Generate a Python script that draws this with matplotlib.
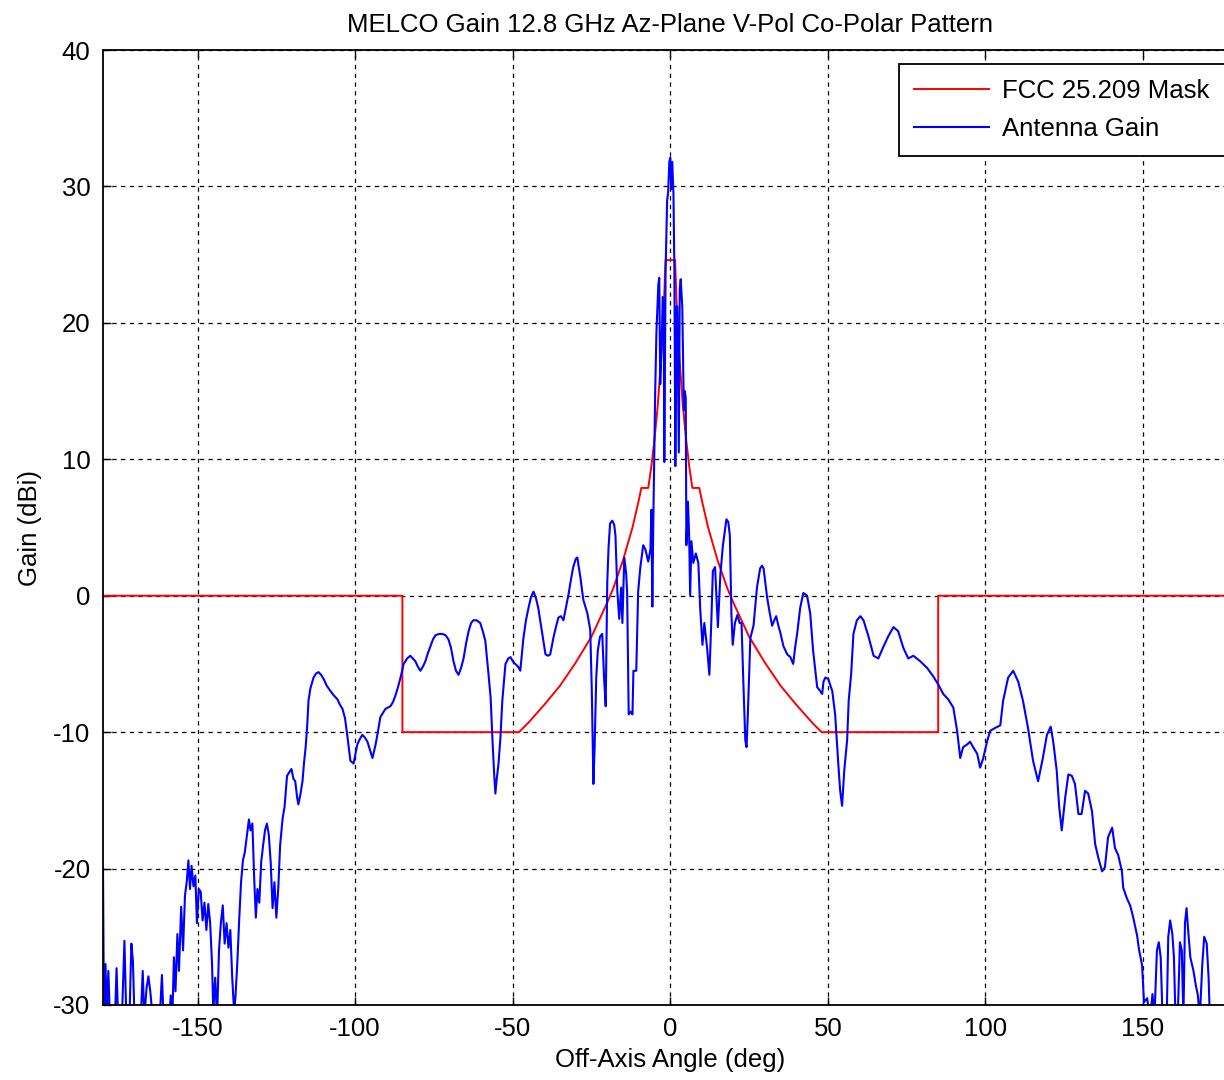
import matplotlib
matplotlib.use("Agg")
import matplotlib.pyplot as plt
import numpy as np

plt.rcParams['font.family'] = ['Liberation Sans', 'DejaVu Sans']
plt.rcParams['axes.unicode_minus'] = False

TITLE = "MELCO Gain 12.8 GHz Az-Plane V-Pol Co-Polar Pattern"
XLABEL = "Off-Axis Angle (deg)"
YLABEL = "Gain (dBi)"
LEGEND_LABELS = ["FCC 25.209 Mask", "Antenna Gain"]
XTICKS = [-150, -100, -50, 0, 50, 100, 150]
YTICKS = [-30, -20, -10, 0, 10, 20, 30, 40]

# FCC 25.209 mask (breakpoints)
mask_angle = [-180, -85, -85, -48, -45, -40, -35, -30, -25, -20, -18, -15, -12, -10, -9.2,
              -7, -6, -5, -4, -3, -2, -1.5, 1.5, 2, 3, 4, 5, 6, 7,
              9.2, 10, 12, 15, 18, 20, 25, 30, 35, 40, 45, 48, 85, 85, 180]
mask_gain = [0, 0, -10, -10, -9.3, -8.0, -6.6, -4.9, -3.0, -0.5, 0.6, 2.6, 5.0, 7.0, 7.9,
             7.9, 9.5, 11.5, 13.9, 17.1, 21.5, 24.6, 24.6, 21.5, 17.1, 13.9, 11.5, 9.5, 7.9,
             7.9, 7.0, 5.0, 2.6, 0.6, -0.5, -3.0, -4.9, -6.6, -8.0, -9.3, -10, -10, 0, 0]

gain_angle = [
    -180, -179.7, -179.2, -178.8, -178.3, -177.8, -177, -176.2, -175.7, -175.2, -174, -173.2, -172.6,
    -171.6, -171, -170.5, -170, -169, -168, -167.4, -166.9, -166.2, -165.6, -165.0, -164.4, -163,
    -162, -161.3, -160.8, -159, -158.5, -158, -157.5, -157, -156.4, -155.9, -155.2, -154.6, -154,
    -153.4, -152.9, -152.4, -151.9, -151.3, -150.7, -150.2, -149.6, -149, -148.4, -147.8, -147.2,
    -146.6, -146, -145.4, -145, -144.4, -143.8, -143.2, -142.6, -142.0, -141.4, -140.8, -140.2,
    -139.6, -139, -138.4, -138, -137.4, -136.8, -136.2, -135.6, -135, -134.3, -133.7, -133.2,
    -132.6, -132, -131.5, -131, -130.4, -129.8, -129.2, -128.6, -128, -127.4, -126.8, -126.2,
    -125.6, -125, -124.4, -123.8, -123, -122.4, -121.6, -120.8, -120.2, -119.6, -119, -118.4,
    -118, -117.4, -116.7, -116.2, -115.7, -115.2, -114.8, -114.2, -113.2, -112.4, -111.6, -110.8,
    -110, -109, -107.8, -106.8, -105.6, -104.8, -104, -103.2, -102.4, -101.5, -100.5, -99.8,
    -99.3, -98.5, -97.7, -96.9, -96.1, -95.3, -94.5, -93.5, -92.8, -92, -91.2, -90.4, -89.6,
    -88.8, -88, -87.2, -86.4, -85.6, -84.6, -83.5, -82.5, -81.7, -80.9, -80.1, -79.3, -78.5,
    -77.7, -76.9, -76.1, -75.3, -74.5, -73.4, -72.3, -71.3, -70.4, -69.6, -68.8, -68, -67.2,
    -66.4, -65.6, -64.8, -64, -63.2, -62.5, -61.5, -60.3, -59.5, -58.7, -57.7, -57, -56.4,
    -55.9, -55.5, -55.1, -54.5, -53.9, -53.3, -52.3, -51.4, -50.7, -50, -49.2, -48.3, -47.6,
    -46.6, -45.8, -45, -44.2, -43.4, -42.6, -41.9, -40.6, -39.6, -38.8, -38.1, -37.1, -36.3,
    -35.5, -34.7, -33.9, -32.3, -31.5, -30.8, -30.0, -29.5, -28.5, -27.6, -26.3, -25.4, -24.9,
    -24.4, -24.0, -23.5, -23.0, -22.3, -21.6, -21.0, -20.5, -20.0, -19.6, -19.1, -18.4, -17.8,
    -17.4, -16.8, -16.2, -15.6, -15.2, -14.6, -14.0, -13.7, -13.2, -12.5, -12.0, -11.7, -10.8,
    -10.2, -9.5, -8.6, -7.9, -7.0, -6.3, -6.0, -5.7, -5.4, -4.8, -4.4, -3.8, -3.5, -3.2, -2.8,
    -2.4, -2.1, -1.9, -1.5, -1.0, -0.7, -0.3, 0.0, 0.3, 0.6, 1.0, 1.3, 1.6, 2.0, 2.2, 2.7, 3.0,
    3.3, 3.8, 4.3, 4.6, 4.9, 5.1, 5.6, 6.0, 6.3, 6.7, 7.3, 8.1, 8.9, 9.5, 10.2, 10.8, 11.7, 12.4,
    13.0, 13.5, 14.2, 15.1, 15.9, 16.7, 17.8, 18.4, 18.9, 19.4, 19.8, 20.5, 21.3, 22.0, 22.6,
    23.2, 23.8, 24.2, 24.6, 25.0, 25.4, 26.4, 27.5, 28.5, 29.1, 29.6, 30.7, 31.5, 32.3, 33.0,
    33.6, 34.3, 34.9, 35.9, 37.1, 38.1, 39.0, 39.6, 40.3, 41.2, 42.2, 43.4, 44.4, 45.3, 46.6,
    47.6, 48.2, 48.6, 49.2, 50.1, 51.4, 52.3, 53.3, 53.9, 54.5, 55.2, 56.1, 56.6, 57.4, 58.1,
    59.2, 60.3, 61.3, 62.9, 64.5, 66.0, 67.5, 69.1, 70.8, 72.3, 73.9, 75.5, 77.1, 79.3, 81.5,
    83.4, 85.0, 86.6, 88.2, 89.8, 91.0, 92.0, 92.9, 94.2, 95.1, 96.1, 97.4, 98.3, 99.3, 100.5,
    101.5, 103.0, 104.7, 105.6, 107.2, 108.8, 110.4, 111.9, 113.5, 115.1, 116.7, 118.2, 119.5,
    120.7, 121.5, 122.6, 123.4, 124.2, 125.3, 126.3, 127.4, 128.4, 129.5, 130.5, 131.6, 132.6,
    133.8, 134.8, 135.8, 137.0, 137.9, 138.9, 140.2, 141.1, 142.1, 143.3, 143.7, 144.9, 145.9,
    146.8, 148.1, 148.7, 149.7, 150.3, 151.3, 152.2, 153, 153.6, 154.4, 155, 155.6, 156.2, 157.5,
    158, 158.6, 159.3, 159.8, 160.3, 161, 161.7, 162.3, 162.8, 163.3, 163.8, 164.3, 165.0, 166.0,
    166.7, 167.4, 168, 168.8, 169.4, 170.2, 170.8, 171.2, 180]
gain_dbi = [
    -20, -31, -27, -31, -27.5, -31, -31, -31, -27.3, -31, -31, -25.3, -31,
    -31, -25.5, -26.8, -31, -31, -31, -27.5, -31, -28.8, -27.9, -29.0, -30.5, -31,
    -31, -27.8, -31, -31, -29.3, -31, -26.5, -29, -24.8, -27.5, -22.8, -26, -22.0,
    -20.9, -19.4, -21.5, -19.8, -21.3, -20.5, -24, -21.5, -21.7, -23.8, -22.5, -24.5,
    -22.6, -24, -27, -30.5, -28, -31, -26, -24, -22.7, -25.5, -24, -25.8,
    -24.5, -28, -30.5, -29.5, -27, -23.8, -21, -19.4, -18.8, -17.5, -16.4, -17.2,
    -16.7, -20.9, -23.6, -21.5, -22.5, -19.5, -18.3, -17.2, -16.7, -17.5, -19.5, -22.9,
    -21.0, -23.6, -21.5, -18.3, -16.3, -15.5, -13.2, -12.9, -12.7, -13.4, -13.6, -14.8,
    -15.3, -14.6, -13.6, -12.2, -11.1, -9.5, -7.7, -6.8, -6.0, -5.7, -5.6, -5.8,
    -6.1, -6.6, -7.0, -7.3, -7.6, -8.0, -8.3, -9.0, -10.4, -12.1, -12.3, -11.5,
    -10.9, -10.5, -10.2, -10.4, -10.7, -11.3, -11.9, -10.9, -10.0, -8.9, -8.6, -8.3, -8.2,
    -8.1, -7.8, -7.3, -6.7, -6.0, -5.0, -4.6, -4.4, -4.6, -4.8, -5.2, -5.5, -5.2,
    -4.8, -4.2, -3.7, -3.2, -2.9, -2.8, -2.8, -2.9, -3.2, -3.8, -4.8, -5.5, -5.8,
    -5.3, -4.6, -3.5, -2.6, -2.0, -1.8, -1.8, -2.0, -2.6, -3.3, -5.7, -7.5, -10.7,
    -13.0, -14.5, -13.5, -12.3, -10.4, -7.7, -5.0, -4.6, -4.5, -4.8, -5.0, -5.2, -5.5,
    -3.1, -1.8, -0.9, -0.1, 0.3, -0.2, -0.9, -2.8, -4.3, -4.4, -4.3, -3.1, -2.3,
    -1.6, -1.5, -1.8, 0.1, 1.2, 2.1, 2.7, 2.8, 1.3, -0.3, -1.3, -2.5, -7.0,
    -13.8, -11.0, -6.0, -4.0, -3.0, -2.8, -6.1, -8.1, 1.0, 3.5, 5.3, 5.5, 5.2,
    4.4, 0.3, -1.7, 0.6, -2.0, 2.8, 1.6, 0.3, -8.7, -8.5, -8.7, -5.5, -5.5,
    0.3, 2.1, 3.7, 3.4, 2.5, 3.4, 6.3, -0.8, 5.3, 14.9, 19.3, 22.8, 23.3, 15.5, 18.1,
    21.9, 21.5, 9.8, 23.8, 29.0, 29.5, 31.8, 32.1, 29.8, 31.8, 29.5, 23.8, 9.5, 21.2, 21.2, 10.5, 22.5,
    23.2, 21.2, 13.6, 15.0, 14.5, 3.7, 6.9, 4.2, 0.0, 4.0, 2.4, 3.1, 2.4, -1.0, -3.6, -2.0, -3.9, -5.8,
    -2.0, 1.8, 2.1, -2.3, 1.6, 3.7, 5.6, 5.4, 4.4, -1.4, -3.6, -2.0, -1.4, -2.0, -2.0,
    -6.5, -10.6, -11.1, -8.7, -6.0, -3.1, -2.2, 0.6, 2.0, 2.2, 2.0, -0.1, -1.2, -2.2, -1.8,
    -1.5, -2.2, -2.7, -3.7, -4.3, -4.5, -5.0, -3.8, -2.7, -0.9, 0.2, 0.0, -1.3, -4.0, -6.7,
    -7.0, -7.2, -6.3, -6.0, -6.1, -7.0, -8.7, -12.3, -14.3, -15.4, -12.8, -10.6, -7.7, -5.7, -2.8,
    -1.8, -1.5, -1.8, -3.0, -4.4, -4.6, -3.8, -3.0, -2.3, -2.6, -3.8, -4.6, -4.4, -4.8, -5.3,
    -5.9, -6.5, -7.2, -7.6, -8.2, -9.9, -11.9, -11.1, -10.9, -10.7, -11.1, -11.6, -12.6, -11.9, -10.7,
    -9.9, -9.7, -9.5, -7.7, -6.0, -5.5, -6.3, -7.7, -9.7, -12.1, -13.6, -11.9, -10.2,
    -9.6, -10.7, -12.8, -15.5, -17.2, -14.8, -13.1, -13.2, -13.8, -16.0, -16.0, -14.3, -14.5,
    -15.8, -18.2, -19.2, -20.2, -19.9, -17.7, -17.0, -18.5, -19.0, -20.2, -21.4, -22.2, -22.7,
    -23.5, -24.9, -25.9, -27.1, -29.8, -29.5, -31, -29.2, -31, -26, -25.4, -26.5, -31, -31,
    -25, -23.8, -24.8, -26.5, -31, -31, -25.4, -26, -31, -24, -22.9, -24.5, -26.5, -27.5,
    -28.5, -29.3, -31, -27, -25.0, -25.5, -28, -31, -31]

FS = 18.5

fig = plt.figure(figsize=(12.24, 10.8), dpi=100)
ax = fig.add_axes([103/1224, 1 - 1005/1080, (1237.6 - 103)/1224, (1005 - 50)/1080])

ax.plot(mask_angle, mask_gain, color=(1, 0, 0), lw=1.4, label=LEGEND_LABELS[0])
ax.plot(gain_angle, gain_dbi, color=(0, 0, 1), lw=1.5, label=LEGEND_LABELS[1])

ax.set_xlim(-180, 180)
ax.set_ylim(-30, 40)
ax.set_xticks(XTICKS)
ax.set_yticks(YTICKS)
ax.grid(True, color='k', linestyle=(0, (3.5, 3.5)), linewidth=0.9)
ax.tick_params(direction='in', length=6, width=1, top=True, right=True,
               labelsize=FS, pad=9)
for s in ax.spines.values():
    s.set_linewidth(1.3)

ax.set_title(TITLE, fontsize=FS, pad=13)
ax.set_xlabel(XLABEL, fontsize=FS, labelpad=5)
ax.set_ylabel(YLABEL, fontsize=FS, labelpad=8)

leg = fig.legend(loc='upper left', bbox_to_anchor=(899/1224, 1 - 64/1080),
                 fontsize=FS, frameon=True, fancybox=False, framealpha=1,
                 edgecolor='k', borderpad=0.6, handlelength=2.9,
                 handletextpad=0.5, labelspacing=0.52, borderaxespad=0)
leg.get_frame().set_linewidth(1.3)

fig.savefig("out.png", dpi=100)
